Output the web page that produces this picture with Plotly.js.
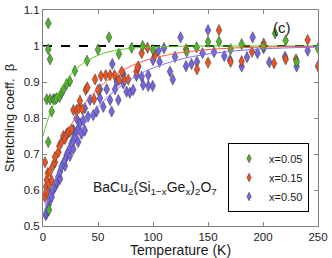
<!DOCTYPE html>
<html>
<head>
<meta charset="utf-8">
<script src="https://cdn.plot.ly/plotly-3.0.1.min.js"></script>
<style>html,body{margin:0;padding:0;background:#fff}#plot{width:332px;height:258px}</style>
</head>
<body>
<div id="plot"></div>
<script>
// ---- data ----
const greenT = [3.4,4.8,4.8,5.5,4.8,6.4,6.4,7.9,9.4,10.9,12.4,15,17,18.5,21.5,24.5,29,40,50,60,69,80.6,90.6,100,130.6,139.7,150,160,170.6,180.6,200,211,220.6,230.6,250];
const greenB = [0.852,1.063,0.991,0.545,0.733,0.963,0.852,0.818,0.852,0.852,0.855,0.858,0.870,0.878,0.894,0.902,0.931,0.959,0.990,1.024,0.978,0.995,1.0,0.989,0.984,0.996,1.012,1.012,0.991,1.005,0.998,1.035,1.015,0.956,0.994];

const orangeT = [1.8,1.8,2.7,3.4,3.4,4.3,5.7,6.4,7.9,9.4,10.9,10.9,14,14.8,17,18.5,20,21.5,23,24.5,26,27.6,30.6,32.5,33.6,35.7,38.8,40.3,46.4,47.3,50,52.7,57,61,65,69,71.5,74,77.5,85,86,89.7,95,101.8,130,140,150,160,170.6,180.6,190,200.6,210,220.6,230,240.6,250];
const orangeB = [0.677,0.580,0.609,0.594,0.628,0.647,0.617,0.651,0.626,0.669,0.677,0.692,0.705,0.722,0.734,0.750,0.742,0.756,0.760,0.762,0.768,0.822,0.822,0.827,0.848,0.824,0.878,0.885,0.852,0.907,0.878,0.917,0.919,0.919,0.919,0.906,0.929,0.906,0.907,0.929,0.941,0.980,0.995,0.975,0.991,0.935,0.954,1.044,0.956,0.958,0.984,1.007,0.952,0.963,0.963,1.017,0.944];

const blueT = [2.5,3.4,4.3,5,6.4,6.4,7.9,9.4,10.9,12.4,12.4,14,15.5,15.5,17,18.5,20,20,21.5,23,24.5,24.5,26,27.6,27.6,27.6,29,30.6,30.6,32,32,33.6,35,36.6,38,38,41,42.7,45.7,48.8,51.8,51.8,54.8,57.9,61,62.4,63,65.5,67,68.5,73,73,76,79,82,85,86.7,89.7,91,95.7,95.7,99.7,100,105,106,110,115.5,118,120,125,130,135,140,145,150,155.5,164.8,170,180.6,185.5,190.6,195,200.6,205.7,220,230.6,240.6];
const blueB = [0.530,0.535,0.544,0.560,0.572,0.591,0.580,0.600,0.609,0.617,0.623,0.637,0.631,0.651,0.665,0.674,0.667,0.683,0.697,0.706,0.695,0.716,0.730,0.714,0.739,0.767,0.748,0.762,0.799,0.733,0.771,0.785,0.756,0.794,0.765,0.827,0.804,0.850,0.808,0.818,0.855,0.880,0.831,0.880,0.850,0.818,0.950,0.880,0.901,0.850,0.896,0.922,0.873,0.870,0.878,0.917,0.943,0.915,0.892,0.919,0.889,0.889,0.961,0.987,0.956,0.994,0.929,0.907,0.970,1.024,0.944,0.950,0.956,0.980,1.044,0.983,0.972,0.961,0.943,0.969,1.024,0.980,0.994,0.955,0.970,0.943,0.987];

// fit curves
const fitT      = [0,5,10,15,20,25,30,40,50,60,70,85,100,120,140,170,200,250];
const fitGreen  = [0.750,0.801,0.841,0.874,0.899,0.920,0.936,0.959,0.974,0.984,0.990,0.995,0.997,0.999,1.0,1.0,1.0,1.0];
const fitOrange = [0.586,0.635,0.678,0.715,0.749,0.778,0.804,0.848,0.881,0.908,0.928,0.951,0.966,0.979,0.987,0.994,0.997,0.999];
const fitBlue   = [0.530,0.576,0.617,0.654,0.687,0.718,0.745,0.792,0.831,0.862,0.887,0.917,0.939,0.959,0.973,0.985,0.992,0.997];

const refT = [0,250];
const refB = [1,1];

const legendNames = ['x=0.05','x=0.15','x=0.50'];
const yTicks = [0.5,0.6,0.7,0.8,0.9,1.0,1.1];
const yTickText = ['0.5','0.6','0.7','0.8','0.9','1','1.1'];
const xTicks = [0,50,100,150,200,250];

// ---- styling ----
const cG = '#4fb32b', cO = '#f0521e', cB = '#7565e6';
const lG = '#55cc22', lO = '#ff5533', lB = '#8070ff';
const font = 'Liberation Sans, Arial, sans-serif';

const mk = (c) => ({symbol:'diamond-tall', size:8, color:c, line:{color:'#444', width:0.6}});
const lmk = (c) => ({symbol:'diamond-tall', size:6, color:c, line:{color:'#444', width:0.6}});

const traces = [
  {x:refT, y:refB, mode:'lines', line:{color:'#000', width:1.8, dash:'dash'}, showlegend:false, hoverinfo:'skip'},
  {x:blueT, y:blueB, mode:'markers', marker:mk(cB), name:legendNames[2], showlegend:false},
  {x:orangeT, y:orangeB, mode:'markers', marker:mk(cO), name:legendNames[1], showlegend:false},
  {x:greenT, y:greenB, mode:'markers', marker:mk(cG), name:legendNames[0], showlegend:false},
  {x:fitT, y:fitGreen, mode:'lines', line:{color:lG, width:1, shape:'spline'}, showlegend:false},
  {x:fitT, y:fitOrange, mode:'lines', line:{color:lO, width:1, shape:'spline'}, showlegend:false},
  {x:fitT, y:fitBlue, mode:'lines', line:{color:lB, width:1, shape:'spline'}, showlegend:false},
  // legend entries
  {x:[null], y:[null], mode:'markers', marker:lmk(cG), name:legendNames[0]},
  {x:[null], y:[null], mode:'markers', marker:lmk(cO), name:legendNames[1]},
  {x:[null], y:[null], mode:'markers', marker:lmk(cB), name:legendNames[2]}
];

const axCommon = {
  showline:true, linecolor:'#808080', linewidth:1, mirror:'ticks',
  ticks:'inside', ticklen:4, tickcolor:'#808080', tickwidth:1,
  showgrid:false, zeroline:false,
  tickfont:{family:font, size:11.5, color:'#1a1a1a'}
};

const layout = {
  width:332, height:258,
  margin:{l:43, r:14, t:10, b:32},
  paper_bgcolor:'#fff', plot_bgcolor:'#fff',
  font:{family:font, color:'#1a1a1a'},
  showlegend:true,
  xaxis:Object.assign({}, axCommon, {
    range:[0,250], tickvals:xTicks,
    title:{text:'Temperature (K)', font:{family:font, size:14, color:'#1a1a1a'}, standoff:3}
  }),
  yaxis:Object.assign({}, axCommon, {
    range:[0.5,1.1], tickvals:yTicks, ticktext:yTickText,
    title:{text:'Stretching coeff.&nbsp; β', font:{family:font, size:13, color:'#1a1a1a'}, standoff:6}
  }),
  legend:{
    x:0.673, y:0.384, xanchor:'left', yanchor:'top',
    bgcolor:'#fff', bordercolor:'#000', borderwidth:1,
    font:{family:font, size:11, color:'#1a1a1a'},
    tracegroupgap:0, itemwidth:30
  },
  annotations:[
    {xref:'paper', yref:'paper', x:0.87, y:0.92, xanchor:'center', yanchor:'middle', showarrow:false,
     text:'(c)', font:{family:font, size:15, color:'#1a1a1a'}},
    {xref:'paper', yref:'paper', x:0.175, y:0.175, xanchor:'left', yanchor:'middle', showarrow:false,
     text:'BaCu<sub>2</sub>(Si<sub>1−x</sub>Ge<sub>x</sub>)<sub>2</sub>O<sub>7</sub>', font:{family:font, size:14, color:'#1a1a1a'}}
  ]
};

Plotly.newPlot('plot', traces, layout, {displayModeBar:false, staticPlot:true});
</script>
</body>
</html>
